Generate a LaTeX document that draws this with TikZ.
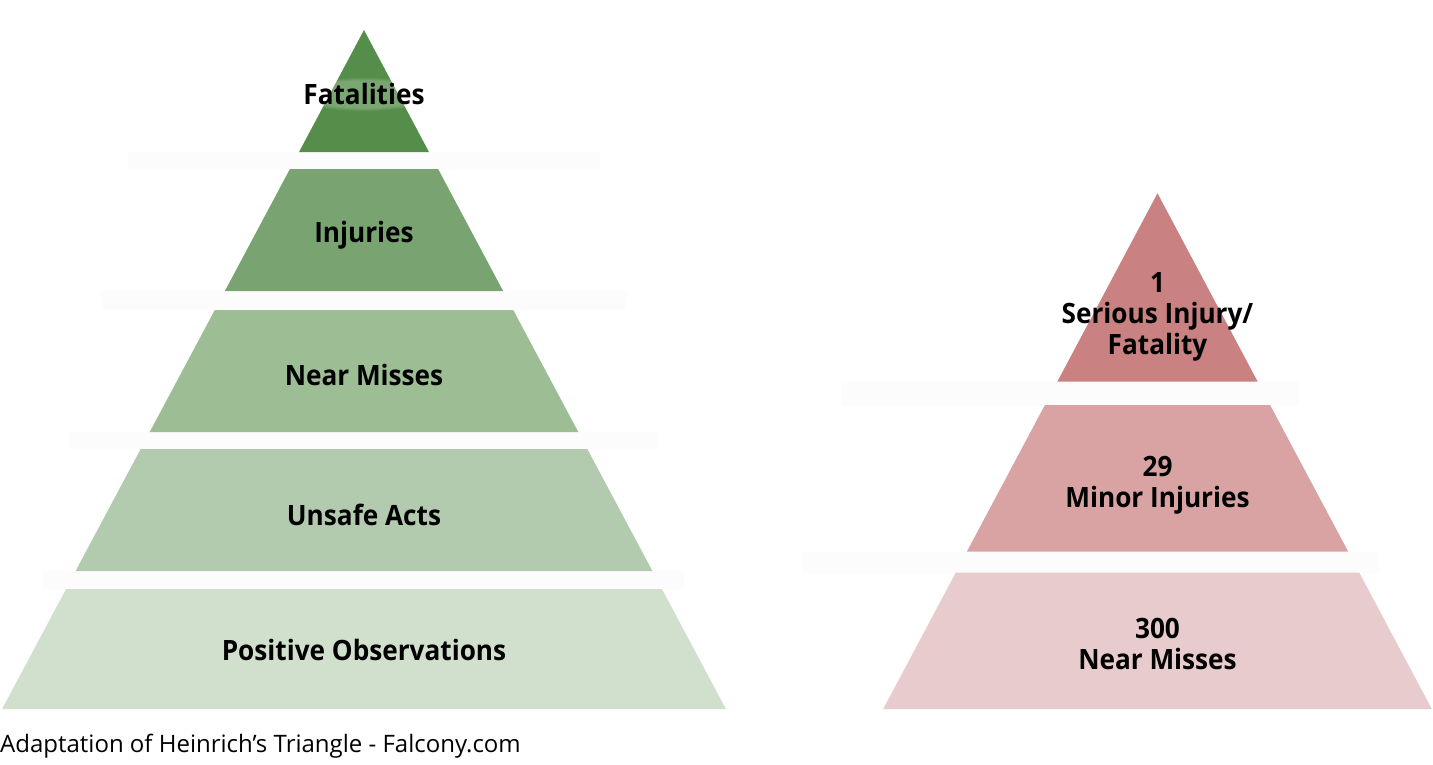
\documentclass[tikz,border=0pt]{standalone}
\usepackage{fontspec}
\usetikzlibrary{fadings}
\setmainfont{Open Sans}
\newfontfamily\tierfont{Open Sans}[FakeStretch=0.935]
\begin{document}
\begin{tikzpicture}[x=1bp,y=-1bp,
  gapbar/.style={fill=barwhite},
  tier/.style={font=\tierfont\fontsize{28bp}{31bp}\selectfont\bfseries, text=black, inner sep=0pt, align=center},
  caption/.style={font=\fontsize{24bp}{28bp}\selectfont, text=black, inner sep=0pt}]
\definecolor{barwhite}{HTML}{FCFCFC}
\definecolor{gA}{HTML}{558E4A}
\definecolor{gB}{HTML}{79A471}
\definecolor{gC}{HTML}{9DBD95}
\definecolor{gD}{HTML}{B2CBAE}
\definecolor{gE}{HTML}{D1DFCD}
\definecolor{rA}{HTML}{C98181}
\definecolor{rB}{HTML}{D9A3A3}
\definecolor{rC}{HTML}{E8CBCC}
\useasboundingbox[fill=white] (0,0) rectangle (1433,764);

% separator bars of the green pyramid
\fill[gapbar] (128,152) rectangle (600,169);
\fill[gapbar] (101.7,291) rectangle (625.7,310);
\fill[gapbar] (69,432) rectangle (657.7,449);
\fill[gapbar] (43.3,571) rectangle (684,589);
% separator bars of the red pyramid
\fill[gapbar] (840.7,381.7) rectangle (1299,405);
\fill[gapbar] (801.7,551.7) rectangle (1377.7,572.7);

% green pyramid tiers
\fill[gA] (364,30) -- (429,152) -- (299,152) -- cycle;
\fill[gB] (289.9,169) -- (438.1,169) -- (503.1,291) -- (224.9,291) -- cycle;
\fill[gC] (214.8,310) -- (513.2,310) -- (578.3,432) -- (149.7,432) -- cycle;
\fill[gD] (140.7,449) -- (587.3,449) -- (652.4,571) -- (75.6,571) -- cycle;
\fill[gE] (66.1,589) -- (661.9,589) -- (725.9,709) -- (2.1,709) -- cycle;

% soft light glow behind the top label, kept inside the top tier
\begin{scope}
  \clip (364,30) -- (429,152) -- (299,152) -- cycle;
  \fill[white, opacity=0.22, path fading=circle with fuzzy edge 20 percent]
    (364,94) ellipse [x radius=72, y radius=17];
\end{scope}

% red pyramid tiers
\fill[rA] (1157.5,193.3) -- (1257.7,381.7) -- (1057.3,381.7) -- cycle;
\fill[rB] (1044.9,405) -- (1270.1,405) -- (1348.2,551.7) -- (966.8,551.7) -- cycle;
\fill[rC] (955.7,572.7) -- (1359.3,572.7) -- (1431.8,709) -- (883.2,709) -- cycle;

% tier labels
\node[tier, anchor=base] (fat) at (364,104) {Fatalities};
\node[tier, anchor=base] (inj) at (364,242) {Injuries};
\node[tier, anchor=base] (near) at (364,385) {Near Misses};
\node[tier, anchor=base] (unsafe) at (364,525) {Unsafe Acts};
\node[tier, anchor=base] (pos) at (364,660) {Positive Observations};

\node[tier] (serious) at (1157.5,317) {1\\Serious Injury/\\Fatality};
\node[tier] (minor) at (1157.5,485.5) {29\\Minor Injuries};
\node[tier] (misses) at (1157.5,644) {300\\Near Misses};

\node[caption, anchor=base west] (cap) at (0,752) {Adaptation of Heinrich’s Triangle - Falcony.com};
\end{tikzpicture}
\end{document}
